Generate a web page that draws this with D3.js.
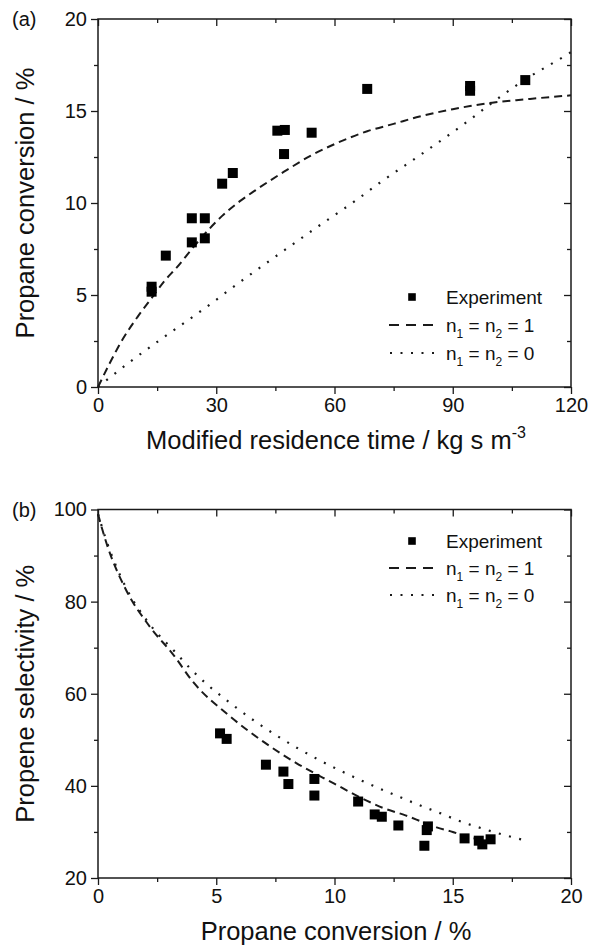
<!DOCTYPE html>
<html><head><meta charset="utf-8">
<script src="https://cdn.jsdelivr.net/npm/d3@7"></script>
<style>
body{margin:0;background:#fff}
svg text{font-family:"Liberation Sans",Arial,Helvetica,sans-serif;fill:#111}
</style>
</head><body>
<svg id="chart" width="590" height="945"></svg>
<script>
// ---------- Panel (a) data ----------
const aExpTime = [13.6, 13.6, 17.2, 23.8, 23.8, 27.1, 27.1, 31.5, 34.2, 45.5, 47.4, 47.2, 54.2, 68.3, 94.4, 94.4, 108.4];
const aExpConv = [5.45, 5.18, 7.14, 9.17, 7.86, 9.17, 8.08, 11.05, 11.63, 13.93, 13.97, 12.66, 13.82, 16.2, 16.36, 16.1, 16.68];
const aN1Time = [0, 3, 6, 10, 13.6, 17, 20, 23.8, 27, 31.5, 36, 40, 47.2, 54.2, 60, 68.3, 75, 81.6, 90, 94.4, 100, 108.4, 117, 120];
const aN1Conv = [0, 1.3, 2.5, 3.8, 4.83, 5.8, 6.5, 7.5, 8.3, 9.3, 10.1, 10.7, 11.7, 12.6, 13.2, 13.9, 14.3, 14.7, 15.1, 15.27, 15.45, 15.63, 15.8, 15.85];
const aN0Time = [0, 8, 16, 26.7, 36, 47.4, 56, 65.8, 71.5, 81.7, 94.8, 100.3, 108.3, 118.5, 120];
const aN0Conv = [0, 1.35, 2.6, 4.22, 5.7, 7.45, 8.75, 10.2, 11.1, 12.6, 14.6, 15.5, 16.7, 18.0, 18.2];
const aXTicks = [0, 30, 60, 90, 120];
const aYTicks = [0, 5, 10, 15, 20];

// ---------- Panel (b) data ----------
const bExpConv = [5.16, 5.44, 7.1, 7.84, 8.05, 9.15, 9.15, 11.0, 11.7, 12.0, 12.7, 13.8, 13.9, 13.95, 15.5, 16.1, 16.25, 16.6];
const bExpSel  = [51.4, 50.2, 44.6, 43.1, 40.4, 41.5, 37.9, 36.6, 33.8, 33.3, 31.4, 27.0, 30.4, 31.2, 28.6, 28.1, 27.3, 28.4];
const bN1Conv = [0, 0.37, 1.14, 2.2, 3.18, 4.03, 5.51, 6.99, 8.4, 9.95, 11.36, 12.06, 13.0, 13.8, 14.32, 15.0, 15.56, 16.4];
const bN1Sel  = [99, 92.5, 83, 74.5, 68.5, 62.5, 55.4, 49.6, 44.9, 40.6, 36.8, 35.2, 33.6, 32.0, 31.0, 30.0, 29.0, 28.3];
const bN0Conv = [0, 0.37, 1.14, 2.2, 3.18, 4.03, 5.79, 7.62, 9.32, 11.08, 12.84, 13.69, 14.6, 15.07, 16.4, 17.2, 18.2];
const bN0Sel  = [99, 93, 83.5, 75, 69.5, 64.8, 57.2, 50.7, 45.7, 41.3, 37.4, 35.6, 33.8, 32.8, 30.5, 29.3, 28.0];
const bXTicks = [0, 5, 10, 15, 20];
const bYTicks = [20, 40, 60, 80, 100];

const legendLabels = ["Experiment", ["n", "1", " = n", "2", " = 1"], ["n", "1", " = n", "2", " = 0"]];

const svg = d3.select("#chart");
const ink = "#1a1a1a";

function drawPanel(cfg) {
  const x = d3.scaleLinear().domain(cfg.xDomain).range([98, 571]);
  const y = d3.scaleLinear().domain(cfg.yDomain).range([cfg.bottom, cfg.top]);
  const g = svg.append("g");
  const xMinor = d3.range(cfg.xDomain[0], cfg.xDomain[1] + 1e-9, cfg.xMinorStep).filter(v => !cfg.xTicks.includes(v));
  const yMinor = d3.range(cfg.yDomain[0], cfg.yDomain[1] + 1e-9, cfg.yMinorStep).filter(v => !cfg.yTicks.includes(v));

  function styleAxis(sel) {
    sel.select(".domain").remove();
    sel.selectAll("line").attr("stroke", ink).attr("stroke-width", 1.3);
    sel.selectAll("text").attr("font-size", 20).attr("fill", ink)
      .style("font-family", '"Liberation Sans",Arial,sans-serif');
  }
  // bottom
  g.append("g").attr("transform", `translate(0,${cfg.bottom})`)
    .call(d3.axisBottom(x).tickValues(cfg.xTicks).tickSize(7).tickPadding(4).tickFormat(d3.format("d"))).call(styleAxis);
  g.append("g").attr("transform", `translate(0,${cfg.bottom})`)
    .call(d3.axisBottom(x).tickValues(xMinor).tickSize(4).tickFormat("")).call(styleAxis);
  // top (inward)
  g.append("g").attr("transform", `translate(0,${cfg.top})`)
    .call(d3.axisTop(x).tickValues(cfg.xTicks).tickSize(-7).tickFormat("")).call(styleAxis);
  g.append("g").attr("transform", `translate(0,${cfg.top})`)
    .call(d3.axisTop(x).tickValues(xMinor).tickSize(-4).tickFormat("")).call(styleAxis);
  // left
  g.append("g").attr("transform", `translate(98,0)`)
    .call(d3.axisLeft(y).tickValues(cfg.yTicks).tickSize(7).tickPadding(4).tickFormat(d3.format("d"))).call(styleAxis);
  g.append("g").attr("transform", `translate(98,0)`)
    .call(d3.axisLeft(y).tickValues(yMinor).tickSize(4).tickFormat("")).call(styleAxis);
  // right (inward)
  g.append("g").attr("transform", `translate(571,0)`)
    .call(d3.axisRight(y).tickValues(cfg.yTicks).tickSize(-7).tickFormat("")).call(styleAxis);
  g.append("g").attr("transform", `translate(571,0)`)
    .call(d3.axisRight(y).tickValues(yMinor).tickSize(-4).tickFormat("")).call(styleAxis);

  // frame
  g.append("rect").attr("x", 98).attr("y", cfg.top).attr("width", 473).attr("height", cfg.bottom - cfg.top)
    .attr("fill", "none").attr("stroke", ink).attr("stroke-width", 1.5);

  const line = d3.line().x(d => x(d[0])).y(d => y(d[1])).curve(d3.curveMonotoneX);
  g.append("path").datum(d3.zip(cfg.n1x, cfg.n1y)).attr("d", line)
    .attr("fill", "none").attr("stroke", ink).attr("stroke-width", 2).attr("stroke-dasharray", "8,5");
  g.append("path").datum(d3.zip(cfg.n0x, cfg.n0y)).attr("d", line)
    .attr("fill", "none").attr("stroke", ink).attr("stroke-width", 2.2).attr("stroke-dasharray", "2,8.5");

  const s = 10;
  g.selectAll("rect.pt").data(d3.zip(cfg.ex, cfg.ey)).join("rect").attr("class", "pt")
    .attr("x", d => x(d[0]) - s / 2).attr("y", d => y(d[1]) - s / 2)
    .attr("width", s).attr("height", s).attr("fill", "#000");

  // legend
  const ly = cfg.legendY;
  const lg = g.append("g");
  lg.append("rect").attr("x", 412 - 3.8).attr("y", ly[0] - 3.8).attr("width", 7.6).attr("height", 7.6).attr("fill", "#000");
  lg.append("line").attr("x1", 389).attr("x2", 435).attr("y1", ly[1]).attr("y2", ly[1])
    .attr("stroke", ink).attr("stroke-width", 2).attr("stroke-dasharray", "10,7");
  lg.append("line").attr("x1", 390).attr("x2", 436).attr("y1", ly[2]).attr("y2", ly[2])
    .attr("stroke", ink).attr("stroke-width", 2.2).attr("stroke-dasharray", "2,8.5");
  legendLabels.forEach((lab, i) => {
    const t = lg.append("text").attr("x", 446).attr("y", ly[i]).attr("dy", "0.36em").attr("font-size", 19);
    if (typeof lab === "string") { t.text(lab); return; }
    lab.forEach((part, j) => {
      const ts = t.append("tspan").text(part);
      if (j % 2 === 1) ts.attr("font-size", 12).attr("dy", 6);
      else if (j > 0) ts.attr("dy", -6);
    });
  });

  // panel label
  g.append("text").attr("x", 12).attr("y", cfg.top).attr("dy", "0.36em").attr("font-size", 20).text(cfg.label);
  // y title
  g.append("text").attr("transform", `translate(25,${(cfg.top + cfg.bottom) / 2}) rotate(-90)`)
    .attr("text-anchor", "middle").attr("dy", "0.36em").attr("font-size", 25.5).text(cfg.yTitle);
  // x title
  const xt = g.append("text").attr("x", 336).attr("y", cfg.bottom + 53).attr("dy", "0.36em")
    .attr("text-anchor", "middle").attr("font-size", 25.5);
  xt.append("tspan").text(cfg.xTitle);
  if (cfg.xSup) xt.append("tspan").attr("font-size", 16).attr("dy", -11).text(cfg.xSup);
}

drawPanel({
  xDomain: [0, 120], yDomain: [0, 20], top: 19, bottom: 387,
  xTicks: aXTicks, yTicks: aYTicks, xMinorStep: 15, yMinorStep: 2.5,
  ex: aExpTime, ey: aExpConv, n1x: aN1Time, n1y: aN1Conv, n0x: aN0Time, n0y: aN0Conv,
  legendY: [297, 325, 353], label: "(a)",
  yTitle: "Propane conversion / %", xTitle: "Modified residence time / kg s m", xSup: "-3"
});
drawPanel({
  xDomain: [0, 20], yDomain: [20, 100], top: 509.5, bottom: 878,
  xTicks: bXTicks, yTicks: bYTicks, xMinorStep: 2.5, yMinorStep: 10,
  ex: bExpConv, ey: bExpSel, n1x: bN1Conv, n1y: bN1Sel, n0x: bN0Conv, n0y: bN0Sel,
  legendY: [541, 568, 595], label: "(b)",
  yTitle: "Propene selectivity / %", xTitle: "Propane conversion / %", xSup: null
});
</script>
</body></html>
